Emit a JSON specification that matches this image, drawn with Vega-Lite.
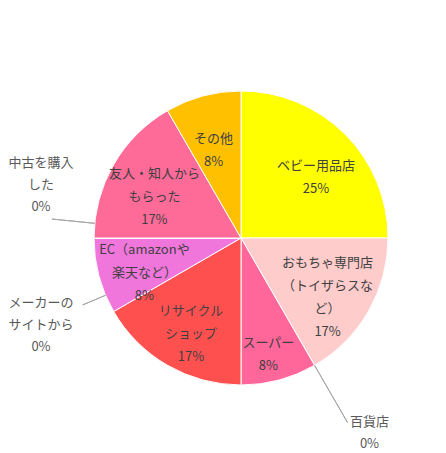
{
  "$schema": "https://vega.github.io/schema/vega-lite/v6.json",
  "description": "Pie chart of where baby goods were obtained",
  "width": 410,
  "height": 430,
  "autosize": "none",
  "padding": {"left": 36, "top": 23, "right": 0, "bottom": 0},
  "background": "white",
  "data": {
    "values": [
      {"name": "ベビー用品店", "value": 3},
      {"name": "おもちゃ専門店\n（トイザらスな\nど）", "value": 2},
      {"name": "百貨店", "value": 0},
      {"name": "スーパー", "value": 1},
      {"name": "リサイクル\nショップ", "value": 2},
      {"name": "EC（amazonや\n楽天など）", "value": 1},
      {"name": "メーカーの\nサイトから", "value": 0},
      {"name": "中古を購入\nした", "value": 0},
      {"name": "友人・知人から\nもらった", "value": 2},
      {"name": "その他", "value": 1}
    ]
  },
  "transform": [
    {"window": [{"op": "row_number", "as": "i"}]},
    {"joinaggregate": [{"op": "sum", "field": "value", "as": "total"}]},
    {"stack": "value", "groupby": [], "sort": [{"field": "i"}], "as": ["v0", "v1"]},
    {"calculate": "datum.v0 / datum.total", "as": "f0"},
    {"calculate": "datum.v1 / datum.total", "as": "f1"},
    {"calculate": "(datum.f0 + datum.f1) / 2", "as": "fm"},
    {"calculate": "datum.name + '\\n' + format(datum.value / datum.total, '.0%')", "as": "label"},
    {"calculate": "split(datum.label, '\\n').length", "as": "lines"}
  ],
  "layer": [
    {
      "mark": {"type": "arc", "outerRadius": 147, "stroke": "white", "strokeWidth": 1},
      "encoding": {
        "theta": {"field": "f0", "type": "quantitative", "stack": null, "scale": {"domain": [0, 1], "nice": false, "zero": true}},
        "theta2": {"field": "f1"},
        "color": {
          "field": "name",
          "type": "nominal",
          "sort": {"field": "i", "op": "min"},
          "scale": {
            "range": ["#ffff00", "#ffcccc", "#cccccc", "#ff6699", "#ff5050", "#f076dc", "#cccccc", "#cccccc", "#ff6b99", "#ffc000"]
          },
          "legend": null
        }
      }
    },
    {
      "transform": [{"filter": "datum.name === '百貨店'"}],
      "mark": {"type": "arc", "innerRadius": 147, "outerRadius": 213, "fill": "transparent", "stroke": "#a6a6a6", "strokeWidth": 1},
      "encoding": {
        "theta": {"field": "f0", "type": "quantitative", "stack": null},
        "theta2": {"field": "f1"}
      }
    },
    {
      "transform": [{"filter": "datum.name === '中古を購入\\nした'"}],
      "mark": {"type": "arc", "innerRadius": 147, "outerRadius": 190, "thetaOffset": 0.1, "theta2Offset": 0.1, "fill": "transparent", "stroke": "#a6a6a6", "strokeWidth": 1},
      "encoding": {
        "theta": {"field": "f0", "type": "quantitative", "stack": null},
        "theta2": {"field": "f1"}
      }
    },
    {
      "transform": [{"filter": "datum.name === 'メーカーの\\nサイトから'"}],
      "mark": {"type": "arc", "innerRadius": 147, "outerRadius": 172, "thetaOffset": -0.4, "theta2Offset": -0.4, "fill": "transparent", "stroke": "#a6a6a6", "strokeWidth": 1},
      "encoding": {
        "theta": {"field": "f0", "type": "quantitative", "stack": null},
        "theta2": {"field": "f1"}
      }
    },
    {
      "transform": [{"filter": "datum.value > 0 && datum.lines === 2"}],
      "mark": {"type": "text", "radius": 106, "dy": 3, "fontSize": 13, "lineBreak": "\n", "lineHeight": 23, "color": "#404040", "font": "Noto Sans CJK JP"},
      "encoding": {
        "theta": {"field": "fm", "type": "quantitative", "stack": null},
        "text": {"field": "label"}
      }
    },
    {
      "transform": [{"filter": "datum.value > 0 && datum.lines === 3"}],
      "mark": {"type": "text", "radius": 100, "dy": -14, "fontSize": 13, "lineBreak": "\n", "lineHeight": 23, "color": "#404040", "font": "Noto Sans CJK JP"},
      "encoding": {
        "theta": {"field": "fm", "type": "quantitative", "stack": null},
        "text": {"field": "label"}
      }
    },
    {
      "transform": [{"filter": "datum.value > 0 && datum.lines === 4"}],
      "mark": {"type": "text", "radius": 100, "dy": -25, "fontSize": 13, "lineBreak": "\n", "lineHeight": 23, "color": "#404040", "font": "Noto Sans CJK JP"},
      "encoding": {
        "theta": {"field": "fm", "type": "quantitative", "stack": null},
        "text": {"field": "label"}
      }
    },
    {
      "transform": [{"filter": "datum.name === '百貨店'"}],
      "mark": {"type": "text", "radius": 215, "dx": 21, "dy": -2, "fontSize": 13, "lineBreak": "\n", "lineHeight": 22, "color": "#595959", "font": "Noto Sans CJK JP"},
      "encoding": {
        "theta": {"field": "fm", "type": "quantitative", "stack": null},
        "text": {"field": "label"}
      }
    },
    {
      "transform": [{"filter": "datum.name === '中古を購入\\nした'"}],
      "mark": {"type": "text", "radius": 200, "dy": -75, "fontSize": 13, "lineBreak": "\n", "lineHeight": 22, "color": "#595959", "font": "Noto Sans CJK JP"},
      "encoding": {
        "theta": {"field": "fm", "type": "quantitative", "stack": null},
        "text": {"field": "label"}
      }
    },
    {
      "transform": [{"filter": "datum.name === 'メーカーの\\nサイトから'"}],
      "mark": {"type": "text", "radius": 200, "dy": 65, "fontSize": 13, "lineBreak": "\n", "lineHeight": 22, "color": "#595959", "font": "Noto Sans CJK JP"},
      "encoding": {
        "theta": {"field": "fm", "type": "quantitative", "stack": null},
        "text": {"field": "label"}
      }
    }
  ],
  "config": {"view": {"stroke": null}}
}
